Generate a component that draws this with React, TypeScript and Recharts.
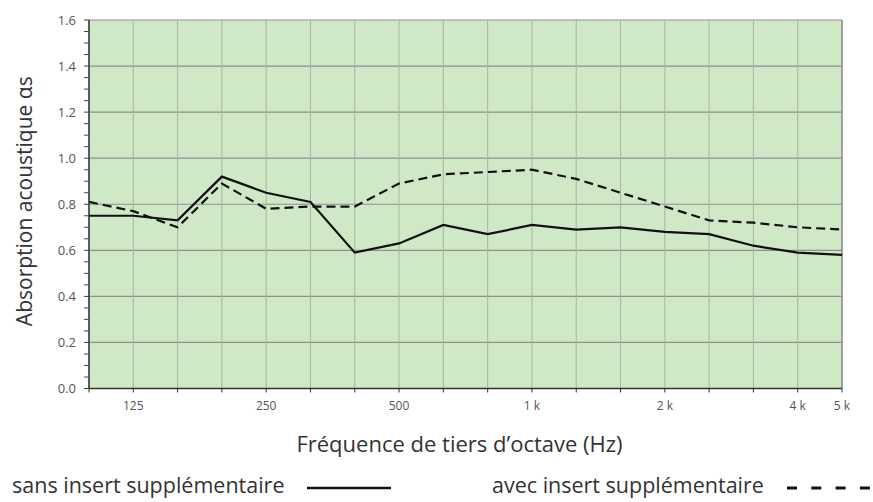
import React from "react";
import {
  CartesianGrid,
  Legend,
  Line,
  LineChart,
  ReferenceLine,
  XAxis,
  YAxis,
} from "recharts";

// third-octave bands, 100 Hz .. 5 kHz
const bands = [
  "100", "125", "160", "200", "250", "315", "400", "500", "630",
  "800", "1000", "1250", "1600", "2000", "2500", "3150", "4000", "5000",
];

const bandLabels = [
  "", "125", "", "", "250", "", "", "500", "", "",
  "1 k", "", "", "2 k", "", "", "4 k", "5 k",
];

const sansInsert = [
  0.75, 0.75, 0.73, 0.92, 0.85, 0.81, 0.59, 0.63, 0.71,
  0.67, 0.71, 0.69, 0.70, 0.68, 0.67, 0.62, 0.59, 0.58,
];

const avecInsert = [
  0.81, 0.77, 0.70, 0.89, 0.78, 0.79, 0.79, 0.89, 0.93,
  0.94, 0.95, 0.91, 0.85, 0.79, 0.73, 0.72, 0.70, 0.69,
];

const yTicks = [
  0, 0.05, 0.1, 0.15, 0.2, 0.25, 0.3, 0.35, 0.4, 0.45, 0.5, 0.55, 0.6,
  0.65, 0.7, 0.75, 0.8, 0.85, 0.9, 0.95, 1.0, 1.05, 1.1, 1.15, 1.2,
  1.25, 1.3, 1.35, 1.4, 1.45, 1.5, 1.55, 1.6,
];
const yGrid = [0, 0.2, 0.4, 0.6, 0.8, 1.0, 1.2, 1.4, 1.6];

const data = bands.map((b, i) => ({
  band: b,
  sans: sansInsert[i],
  avec: avecInsert[i],
}));

const FONT = "'Open Sans', 'Noto Sans', sans-serif";
const TEXT = "#333";
const TICK = "#555";

const YTitle = (props: any) => {
  const vb = props.viewBox || {};
  const cx = (vb.x || 0) + 24;
  const cy = (vb.y || 0) + (vb.height || 0) / 2 - 3;
  return (
    <text
      x={cx}
      y={cy}
      transform={`rotate(-90 ${cx} ${cy})`}
      textAnchor="middle"
      dominantBaseline="central"
      fontSize={21}
      fill={TEXT}
      fontFamily={FONT}
    >
      Absorption acoustique αs
    </text>
  );
};

const XTitle = (props: any) => {
  const vb = props.viewBox || {};
  const cx = (vb.x || 0) + (vb.width || 0) / 2 - 6;
  const y = (vb.y || 0) + 63;
  return (
    <text x={cx} y={y} textAnchor="middle" fontSize={22} fill={TEXT} fontFamily={FONT}>
      Fréquence de tiers d’octave (Hz)
    </text>
  );
};

const renderLegend = () => (
  <div style={{ position: "relative", width: 873, height: 40, fontFamily: FONT, fontSize: 21.5, color: TEXT }}>
    <span style={{ position: "absolute", left: 12, top: 8, whiteSpace: "nowrap" }}>
      sans insert supplémentaire
    </span>
    <svg style={{ position: "absolute", left: 305, top: 22 }} width={88} height={8}>
      <line x1={2} y1={4} x2={86} y2={4} stroke="#111" strokeWidth={2.5} />
    </svg>
    <span style={{ position: "absolute", left: 492, top: 8, whiteSpace: "nowrap" }}>
      avec insert supplémentaire
    </span>
    <svg style={{ position: "absolute", left: 785, top: 22 }} width={88} height={8}>
      <line x1={2} y1={4} x2={85} y2={4} stroke="#111" strokeWidth={2.8} strokeDasharray="10 14.3" />
    </svg>
  </div>
);

export default function App() {
  return (
    <div style={{ position: "absolute", left: 0, top: 0 }}>
      <LineChart
        width={873}
        height={502}
        data={data}
        margin={{ top: 20, right: 31, left: 0, bottom: 0 }}
      >
        <CartesianGrid
          fill="#cfe8c5"
          vertical={false}
          stroke="#8f8f8f"
          strokeWidth={1.2}
          horizontalValues={yGrid}
        />
        <CartesianGrid horizontal={false} stroke="#a9b5a3" strokeWidth={1} />
        <ReferenceLine x="5000" stroke="#8f8f8f" strokeWidth={1.5} />
        <XAxis
          dataKey="band"
          interval={0}
          height={113.5}
          tickSize={4}
          tickMargin={9}
          stroke="#333"
          axisLine={{ stroke: "#333", strokeWidth: 1.5 }}
          tickLine={{ stroke: "#333" }}
          tick={{ fill: TICK, fontSize: 12, fontFamily: FONT }}
          tickFormatter={(_v: any, i: number) => bandLabels[i]}
          label={<XTitle />}
        />
        <YAxis
          width={89}
          domain={[0, 1.6]}
          ticks={yTicks}
          interval={0}
          tickSize={5}
          tickMargin={8}
          axisLine={{ stroke: "#333", strokeWidth: 1.5 }}
          tickLine={{ stroke: "#444" }}
          tick={{ fill: TICK, fontSize: 13, fontFamily: FONT }}
          tickFormatter={(v: number) =>
            Math.round(v * 100) % 20 === 0 ? v.toFixed(1) : ""
          }
          label={<YTitle />}
        />
        <Legend
          layout="vertical"
          align="center"
          verticalAlign="middle"
          wrapperStyle={{ left: 0, top: 462, width: 873, height: 40 }}
          content={renderLegend}
        />
        <Line
          dataKey="sans"
          stroke="#111"
          strokeWidth={2.2}
          dot={false}
          activeDot={false}
          isAnimationActive={false}
        />
        <Line
          dataKey="avec"
          stroke="#111"
          strokeWidth={2.2}
          strokeDasharray="9 5"
          dot={false}
          activeDot={false}
          isAnimationActive={false}
        />
      </LineChart>
    </div>
  );
}
